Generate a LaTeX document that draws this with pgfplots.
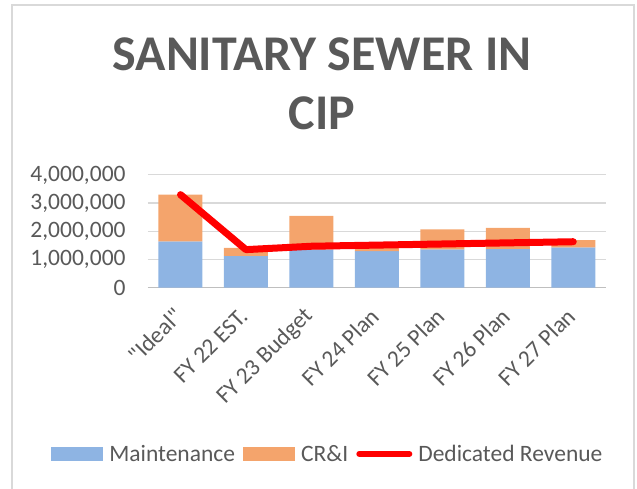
\documentclass[border=0pt]{standalone}
\usepackage{fontspec}
\setmainfont{Carlito}[Ligatures=TeXOff]
\usepackage{pgfplots}
\pgfplotsset{compat=1.18}
\definecolor{txt}{HTML}{595959}
\definecolor{gridc}{HTML}{D9D9D9}
\definecolor{axc}{HTML}{BFBFBF}
\definecolor{maint}{HTML}{8EB4E3}
\definecolor{cri}{HTML}{F4A46C}
\definecolor{frame}{HTML}{D9D9D9}
\begin{document}
\begin{tikzpicture}[x=1pt,y=1pt]
\useasboundingbox (0pt,0pt) rectangle (637pt,489pt);
\draw[frame, line width=1.5pt] (12pt,-10pt) -- (12pt,484pt) -- (634pt,484pt) -- (634pt,-10pt);
\node[anchor=base, font=\fontsize{50}{50}\selectfont\bfseries, text=txt] at (322pt,418pt) {SANITARY SEWER IN};
\node[anchor=base, font=\fontsize{50}{50}\selectfont\bfseries, text=txt] at (322pt,359pt) {CIP};
\begin{axis}[
  at={(147.75pt,201.3pt)}, anchor=south west,
  scale only axis, width=458.25pt, height=112.8pt,
  xmin=-0.5, xmax=6.5, ymin=0, ymax=4000000,
  ybar stacked, bar width=44pt,
  reverse stacked plots=false,
  clip=false,
  axis x line*=bottom, axis y line*=left,
  y axis line style={draw=none},
  x axis line style={draw=axc, line width=1.3pt},
  major tick length=0pt,
  ymajorgrids, grid style={gridc, line width=1.2pt},
  ytick={0,1000000,2000000,3000000,4000000},
  scaled y ticks=false,
  yticklabel style={font=\fontsize{23.5}{23.5}\selectfont, text=txt, /pgf/number format/fixed, /pgf/number format/1000 sep={,}, /pgf/number format/assume math mode=true, inner sep=0pt, xshift=-22pt},
  xtick={0,1,2,3,4,5,6},
  xticklabels={{"Ideal"},{FY 22 EST.},{FY 23 Budget},{FY 24 Plan},{FY 25 Plan},{FY 26 Plan},{FY 27 Plan}},
  xticklabel style={font=\fontsize{23.5}{23.5}\selectfont, text=txt, rotate=45, anchor=east, inner sep=0pt, xshift=-19pt, yshift=-16pt},
  legend columns=3,
  legend style={at={(axis description cs:0.393,-1.474)}, anchor=center, draw=none, fill=none,
    font=\fontsize{23.5}{23.5}\selectfont, text=txt,
    /tikz/every even column/.append style={column sep=6pt},
    /tikz/every odd column/.append style={column sep=4pt}},
  legend cell align=left,
]
\addplot[fill=maint, draw=none, legend image code/.code={\fill[maint] (0pt,-7pt) rectangle (52pt,7pt);}] coordinates {(0,1640000) (1,1130000) (2,1360000) (3,1300000) (4,1360000) (5,1380000) (6,1430000)};
\addlegendentry{Maintenance}
\addplot[fill=cri, draw=none, legend image code/.code={\fill[cri] (0pt,-7pt) rectangle (52pt,7pt);}] coordinates {(0,1660000) (1,280000) (2,1190000) (3,110000) (4,710000) (5,740000) (6,260000)};
\addlegendentry{CR\&I}
\addplot[stack plots=false, sharp plot, red, line width=7pt, line cap=round, line join=round, mark=none, legend image code/.code={\draw[red, line width=6pt, line cap=round] (3pt,0pt) -- (53pt,0pt);}] coordinates {(0,3300000) (1,1350000) (2,1470000) (3,1510000) (4,1550000) (5,1590000) (6,1630000)};
\addlegendentry{Dedicated Revenue}
\end{axis}
\end{tikzpicture}
\end{document}
